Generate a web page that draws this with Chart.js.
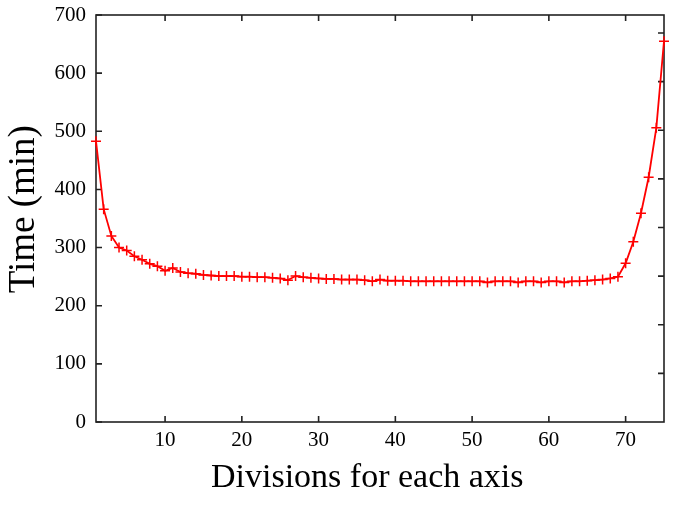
<!DOCTYPE html>
<html>
<head>
    <meta charset="UTF-8">
    <title>Time vs divisions</title>
    <script src="https://cdn.jsdelivr.net/npm/chart.js"></script>
    <style>
        html, body { margin: 0; padding: 0; background: #fff; }
        #wrap { width: 685px; height: 505px; }
    </style>
</head>
<body>
    <div id="wrap"><canvas id="timeChart"></canvas></div>
    <script>
        // divisions for each axis (x) and measured time in minutes (y)
        const divisions = [];
        for (let i = 1; i <= 75; i++) divisions.push(i);
        const timeMin = [
            483, 366, 320, 300, 295, 285, 279, 272, 268, 260,
            265, 258, 256, 255, 253, 252, 251, 251, 251, 250,
            250, 249, 249, 248, 247, 244, 251, 249, 248, 247,
            246, 246, 245, 245, 245, 244, 242, 245, 243, 243,
            243, 242, 242, 242, 242, 242, 242, 242, 242, 242,
            242, 240, 242, 242, 242, 240, 242, 242, 240, 242,
            242, 240, 242, 242, 243, 244, 245, 247, 250, 273,
            310, 359, 421, 506, 655
        ];
        const xTicks = [10, 20, 30, 40, 50, 60, 70];
        const yTicks = [0, 100, 200, 300, 400, 500, 600, 700];
        // the right-hand axis in the original has its own tick spacing
        const rightTicks = [100, 200, 300, 400, 500, 600, 700, 800];

        const serif = "'Liberation Serif', 'Times New Roman', serif";

        const frameTicks = {
            id: 'frameTicks',
            beforeDatasetsDraw(chart) {
                const { ctx, chartArea: a, scales } = chart;
                ctx.save();
                ctx.strokeStyle = '#222';
                ctx.lineWidth = 1.6;
                ctx.strokeRect(a.left, a.top, a.right - a.left, a.bottom - a.top);
                ctx.beginPath();
                xTicks.forEach(v => {
                    const px = scales.x.getPixelForValue(v);
                    ctx.moveTo(px, a.bottom); ctx.lineTo(px, a.bottom - 6);
                    ctx.moveTo(px, a.top); ctx.lineTo(px, a.top + 6);
                });
                yTicks.forEach(v => {
                    const py = scales.y.getPixelForValue(v);
                    ctx.moveTo(a.left, py); ctx.lineTo(a.left + 6, py);
                });
                rightTicks.forEach(v => {
                    const py = scales.y2.getPixelForValue(v);
                    ctx.moveTo(a.right, py); ctx.lineTo(a.right - 6, py);
                });
                ctx.stroke();
                ctx.restore();
            }
        };

        const ctx = document.getElementById('timeChart').getContext('2d');
        new Chart(ctx, {
            type: 'line',
            data: {
                labels: divisions,
                datasets: [{
                    data: divisions.map((d, i) => ({ x: d, y: timeMin[i] })),
                    borderColor: '#ff0000',
                    backgroundColor: '#ff0000',
                    borderWidth: 1.8,
                    pointStyle: 'cross',
                    pointRadius: 5,
                    pointBorderWidth: 1.5,
                    pointBorderColor: '#ff0000',
                    tension: 0,
                    clip: false
                }]
            },
            options: {
                responsive: true,
                maintainAspectRatio: false,
                animation: false,
                layout: { padding: { left: 0, top: 15, right: 21, bottom: 0 } },
                plugins: {
                    legend: { display: false },
                    tooltip: { enabled: false }
                },
                scales: {
                    x: {
                        type: 'linear',
                        min: 1,
                        max: 75,
                        afterBuildTicks: s => { s.ticks = xTicks.map(v => ({ value: v })); },
                        afterFit: s => { s.height = 83; s.paddingLeft = 0; s.paddingRight = 0; },
                        grid: { display: false, drawTicks: false },
                        border: { display: false },
                        ticks: {
                            padding: 6,
                            color: '#000',
                            maxRotation: 0,
                            font: { family: serif, size: 21 }
                        },
                        title: {
                            display: true,
                            text: 'Divisions for each axis\u00a0\u00a0\u00a0',
                            color: '#000',
                            padding: { top: 0, bottom: 7 },
                            font: { family: serif, size: 34 }
                        }
                    },
                    y: {
                        min: 0,
                        max: 700,
                        afterBuildTicks: s => { s.ticks = yTicks.map(v => ({ value: v })); },
                        afterFit: s => { s.width = 96; s.paddingTop = 0; s.paddingBottom = 0; },
                        grid: { display: false, drawTicks: false },
                        border: { display: false },
                        ticks: {
                            padding: 10,
                            color: '#000',
                            font: { family: serif, size: 21 }
                        },
                        title: {
                            display: true,
                            text: '\u00a0\u00a0Time (min)',
                            color: '#000',
                            padding: { top: 2, bottom: 0 },
                            font: { family: serif, size: 37 }
                        }
                    },
                    y2: {
                        display: false,
                        position: 'right',
                        min: 0,
                        max: 837
                    }
                }
            },
            plugins: [frameTicks]
        });
    </script>
</body>
</html>
